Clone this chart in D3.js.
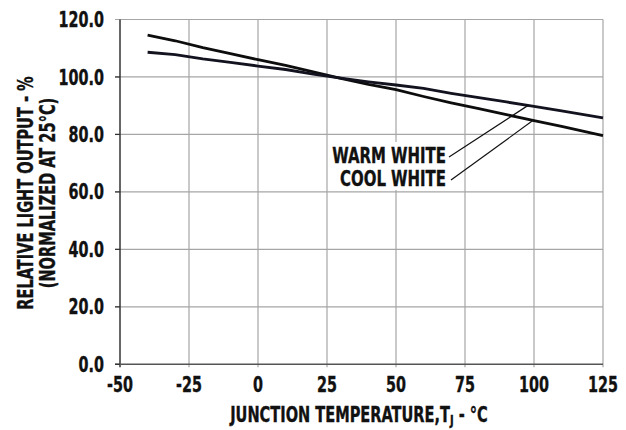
<!DOCTYPE html>
<html>
<head>
<meta charset="utf-8">
<script src="https://d3js.org/d3.v7.min.js"></script>
<style>
  body { margin: 0; background: #fff; }
  text { font-family: "DejaVu Sans Condensed", "DejaVu Sans", sans-serif; font-weight: bold; fill: #111; stroke: #111; stroke-width: 0.35px; }
</style>
</head>
<body>
<svg id="vis"></svg>
<script>
  width = 626
  height = 430

  // data
  xTicks = [-50, -25, 0, 25, 50, 75, 100, 125]
  yTicks = [0, 20, 40, 60, 80, 100, 120]
  temps = [-40, -30, -20, -10, 0, 10, 20, 30, 40, 50, 60, 70, 80, 90, 100, 110, 125]
  warmWhite = [108.6, 107.8, 106.3, 105.1, 103.8, 102.6, 101.0, 99.6, 98.3, 97.2, 96.0, 94.3, 92.8, 91.3, 89.8, 88.2, 85.8]
  coolWhite = [114.6, 112.6, 110.2, 108.1, 106.0, 104.0, 101.8, 99.5, 97.4, 95.6, 93.2, 91.0, 89.0, 86.9, 84.8, 82.8, 79.6]
  labels = ['WARM WHITE', 'COOL WHITE']
  leaderAt = [[98, 90.2], [99.7, 84.9]]

  var svg = d3.select('#vis')
      .attr('width', width)
      .attr('height', height)

  var x = d3.scaleLinear().domain([-50, 125]).range([120, 603])
  var y = d3.scaleLinear().domain([0, 120]).range([364.3, 19.5])

  // condensed text: a group squeezed horizontally
  function ctext(px, py, sx, rot) {
    return svg.append('g')
      .attr('transform', 'translate(' + px + ',' + py + ')' + (rot ? ' rotate(' + rot + ')' : '') + ' scale(' + sx + ',1)')
      .append('text')
  }

  // Gridlines
  svg.append('g').selectAll('line')
    .data(yTicks.filter(d => d > 0))
    .enter().append('line')
    .attr('x1', 115).attr('x2', x(125))
    .attr('y1', d => y(d)).attr('y2', d => y(d))
    .attr('stroke', '#a6a6a6').attr('stroke-width', 1.2)
  svg.append('g').selectAll('line')
    .data(xTicks.filter(d => d > -50))
    .enter().append('line')
    .attr('x1', d => x(d)).attr('x2', d => x(d))
    .attr('y1', y(120)).attr('y2', y(0) + 3)
    .attr('stroke', '#a6a6a6').attr('stroke-width', 1.2)

  // Axes
  svg.append('line')
    .attr('x1', x(-50)).attr('x2', x(-50))
    .attr('y1', y(120)).attr('y2', y(0) + 3)
    .attr('stroke', '#333').attr('stroke-width', 1.5)
  svg.append('line')
    .attr('x1', 115).attr('x2', x(125))
    .attr('y1', y(0)).attr('y2', y(0))
    .attr('stroke', '#555').attr('stroke-width', 1.5)
  svg.append('g').selectAll('line')
    .data(yTicks.filter(d => d < 120))
    .enter().append('line')
    .attr('x1', 115).attr('x2', x(-50))
    .attr('y1', d => y(d)).attr('y2', d => y(d))
    .attr('stroke', '#333').attr('stroke-width', 1.2)

  // Tick labels
  yTicks.forEach(function(d) {
    ctext(104, y(d), 0.76)
      .attr('dy', '0.36em')
      .attr('text-anchor', 'end')
      .style('font-size', '21px')
      .text(d.toFixed(1))
  })
  xTicks.forEach(function(d) {
    ctext(x(d), 392, 0.76)
      .attr('text-anchor', 'middle')
      .style('font-size', '21px')
      .text(d)
  })

  // Axis titles
  var xt = ctext(359, 422, 0.79)
    .attr('text-anchor', 'middle')
    .style('font-size', '20.5px')
  xt.append('tspan').text('JUNCTION TEMPERATURE,T')
  xt.append('tspan').attr('dy', 3).style('font-size', '14px').text('J')
  xt.append('tspan').attr('dy', -3).text(' - °C')

  ctext(33, 193, 0.79, -90)
    .attr('text-anchor', 'middle')
    .style('font-size', '20.5px')
    .text('RELATIVE LIGHT OUTPUT - %')
  ctext(55, 193, 0.79, -90)
    .attr('text-anchor', 'middle')
    .style('font-size', '20.5px')
    .text('(NORMALIZED AT 25°C)')

  // Curves
  var line = d3.line()
    .x((d, i) => x(temps[i]))
    .y(d => y(d))
  svg.append('path')
    .datum(coolWhite)
    .attr('d', line)
    .attr('fill', 'none')
    .attr('stroke', '#0d0d0d')
    .attr('stroke-width', 2.8)
  svg.append('path')
    .datum(warmWhite)
    .attr('d', line)
    .attr('fill', 'none')
    .attr('stroke', '#131320')
    .attr('stroke-width', 2.8)

  // Labels with leader lines
  labelY = [163, 186]
  svg.append('rect')
    .attr('x', 331).attr('y', 142)
    .attr('width', 118).attr('height', 48)
    .attr('fill', '#fff')
  labels.forEach(function(lab, i) {
    svg.append('line')
      .attr('x1', 449 + i * 2).attr('y1', labelY[i] - 6)
      .attr('x2', x(leaderAt[i][0])).attr('y2', y(leaderAt[i][1]))
      .attr('stroke', '#111').attr('stroke-width', 1.2)
    ctext(446, labelY[i], 0.81)
      .attr('text-anchor', 'end')
      .style('font-size', '20.5px')
      .text(lab)
  })
</script>
</body>
</html>
